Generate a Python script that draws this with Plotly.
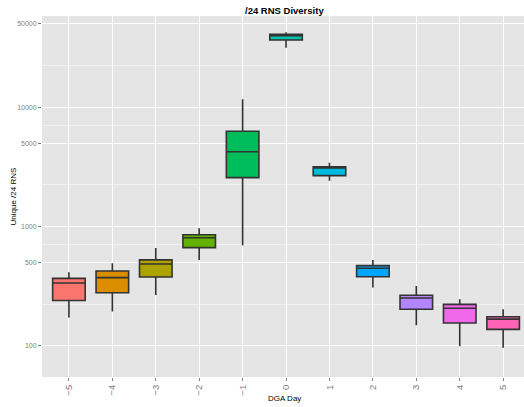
import math
import plotly.graph_objects as go

# Daily counts of unique /24 RNS around the DGA day (box-plot summaries)
days = [-5, -4, -3, -2, -1, 0, 1, 2, 3, 4, 5]
day_labels = ["\u22125", "\u22124", "\u22123", "\u22122", "\u22121", "0", "1", "2", "3", "4", "5"]
whisker_low = [172, 193, 266, 524, 695, 31600, 2420, 307, 148, 99, 96]
q1 = [239, 278, 377, 664, 2570, 36700, 2670, 379, 202, 155, 137]
median = [336, 372, 484, 805, 4240, 39900, 3100, 446, 251, 206, 167]
q3 = [367, 423, 524, 853, 6290, 41000, 3170, 469, 265, 222, 175]
whisker_high = [413, 491, 660, 966, 11700, 42600, 3430, 524, 317, 245, 202]

# ggplot2 default hue palette for 11 levels
palette = ["#F8766D", "#DB8E00", "#AEA200", "#64B200", "#00BD5C", "#00C1A7",
           "#00BADE", "#00A6FF", "#B385FF", "#EF67EB", "#FF63B6"]

y_breaks = [100, 500, 1000, 5000, 10000, 50000]
# minor grid lines sit halfway (in log space) between neighbouring breaks
y_minor = [math.sqrt(a * b) for a, b in zip(y_breaks[:-1], y_breaks[1:])]

FONT = "Liberation Sans, Arial, Helvetica, sans-serif"
TICK_GREY = "#808080"

fig = go.Figure()
for i, d in enumerate(days):
    fig.add_trace(go.Box(
        x=[d],
        q1=[q1[i]], median=[median[i]], q3=[q3[i]],
        lowerfence=[whisker_low[i]], upperfence=[whisker_high[i]],
        width=0.75,
        whiskerwidth=0,
        fillcolor=palette[i],
        line=dict(color="#333333", width=1.6),
        boxpoints=False,
        showlegend=False,
        hoverinfo="skip",
    ))

fig.update_layout(
    width=524, height=407,
    margin=dict(l=42, r=0, t=16, b=30),
    paper_bgcolor="white",
    plot_bgcolor="#E5E5E5",
    font=dict(family=FONT, color="black"),
    boxmode="overlay",
    showlegend=False,
)

fig.update_xaxes(
    range=[-5.62, 5.48],
    tickmode="array", tickvals=days, ticktext=day_labels,
    tickangle=-90,
    tickfont=dict(size=9.5, color=TICK_GREY, family=FONT),
    ticks="outside", ticklen=3, tickwidth=1, tickcolor=TICK_GREY,
    showgrid=True, gridcolor="white", gridwidth=1.1,
    zeroline=False, showline=False,
)

fig.update_yaxes(
    type="log",
    range=[1.737, 4.766],
    tickmode="array", tickvals=y_breaks, ticktext=[str(v) for v in y_breaks],
    tickfont=dict(size=7, color=TICK_GREY, family=FONT),
    ticks="outside", ticklen=3, tickwidth=1, tickcolor=TICK_GREY,
    showgrid=True, gridcolor="white", gridwidth=1.1,
    minor=dict(tickvals=y_minor, showgrid=True, gridcolor="#F2F2F2",
               gridwidth=0.6, ticks=""),
    zeroline=False, showline=False,
)

# Title and axis titles
fig.add_annotation(text="<b>/24 RNS Diversity</b>", xref="paper", yref="paper",
                   x=0.503, y=1, yshift=6, xanchor="center", yanchor="middle",
                   showarrow=False, font=dict(size=9.5, color="black", family=FONT))
fig.add_annotation(text="DGA Day", xref="paper", yref="paper",
                   x=0.503, y=0, yshift=-21, xanchor="center", yanchor="middle",
                   showarrow=False, font=dict(size=8, color="black", family=FONT))
fig.add_annotation(text="Unique /24 RNS", xref="paper", yref="paper",
                   x=0, xshift=-29, y=0.5, textangle=-90,
                   xanchor="center", yanchor="middle",
                   showarrow=False, font=dict(size=8, color="black", family=FONT))

fig.write_html("out.html")
